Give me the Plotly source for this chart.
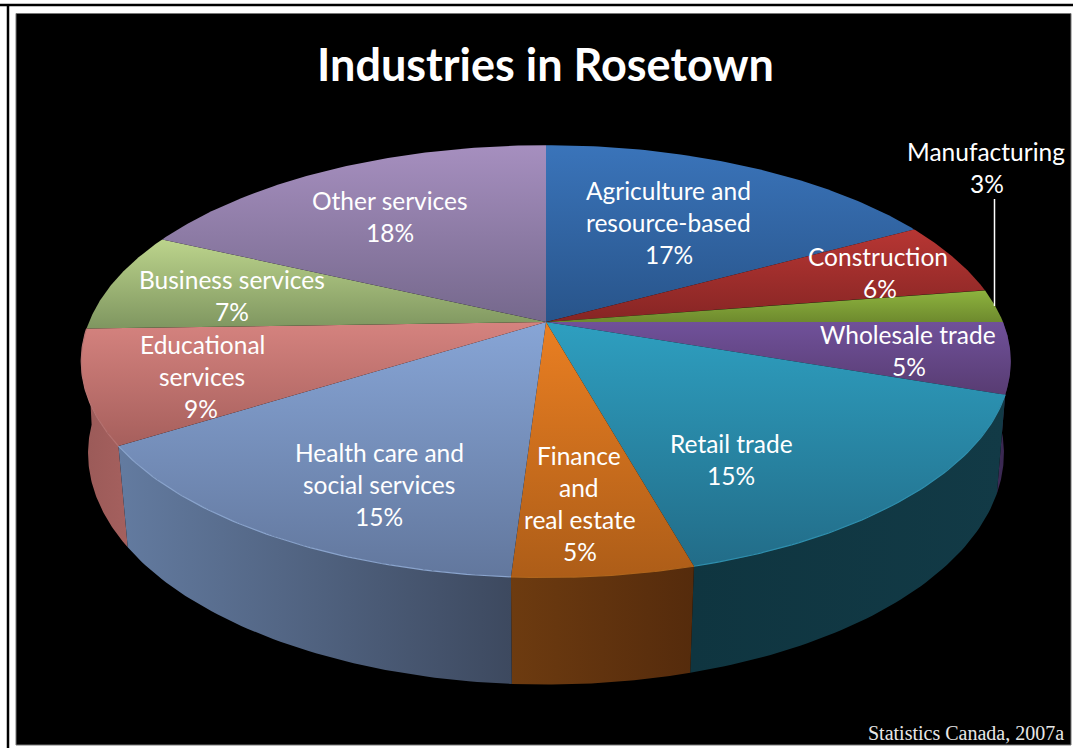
import numpy as np
import plotly.graph_objects as go

# Data
CATEGORIES = ["Agriculture and resource-based", "Construction", "Manufacturing", "Wholesale trade",
              "Retail trade", "Finance and real estate", "Health care and social services",
              "Educational services", "Business services", "Other services"]
SHARES = [17.0, 5.5, 2.5, 5.3, 15.4, 5.3, 15.0, 8.5, 7.5, 18.0]
TOP_LIGHT = ["#3a74ba", "#b73633", "#8db33e", "#70519a", "#2e9fc0", "#ea7f22", "#87a5d6", "#d5837f", "#bcd48c", "#a68fbf"]
TOP_DARK = ["#28548a", "#862524", "#6e8a2e", "#583c72", "#226c88", "#ad5d18", "#62779d", "#a65f5c", "#7f9660", "#75688c"]
WALL_LEFT = {3: "#3c2a55", 4: "#0f3540", 5: "#6d3b10", 6: "#637ba0", 7: "#9a5a58"}
WALL_RIGHT = {3: "#38264e", 4: "#123a46", 5: "#552b0c", 6: "#3d495f", 7: "#a5605e"}
RIM = {4: "#2f8fae", 5: "#b0651c", 6: "#8aa4cd", 7: "#b87472"}

LABELS = [("Agriculture and", 668, 190), ("resource-based", 668, 222), ("17%", 669, 254),
          ("Construction", 878, 256), ("6%", 880, 288),
          ("Manufacturing", 986, 151), ("3%", 987, 183),
          ("Wholesale trade", 908, 334), ("5%", 909, 366),
          ("Retail trade", 731, 443), ("15%", 731, 475),
          ("Finance", 579, 455), ("and", 579, 487), ("real estate", 580, 519), ("5%", 580, 551),
          ("Health care and", 379, 452), ("social services", 379, 484), ("15%", 379, 516),
          ("Educational", 202, 344), ("services", 202, 376), ("9%", 201, 408),
          ("Business services", 232, 279), ("7%", 232, 311),
          ("Other services", 390, 200), ("18%", 390, 232)]
TITLE = "Industries in Rosetown"
SOURCE = "Statistics Canada, 2007a"

# Perspective projection of the pie disc
CX, CY, AX, AY, K = 546.0, 322.0, 457.0, 209.0, 0.182


def top_rim(cum):
    a = np.radians(np.asarray(cum) * 3.6)
    X, Y = np.sin(a), np.cos(a)
    w = 1 + K * Y
    return CX + AX * X / w, CY - AY * Y / w


def bottom_rim(cum):
    x, y = top_rim(cum)
    depth = np.cos(np.radians(np.asarray(cum) * 3.6))
    scale = 0.975 + 0.015 * (1 + depth) ** 2
    return CX + scale * (x - CX), CY + 95.8 + 1.044 * (y - CY)


fig = go.Figure()
edges = np.concatenate([[0], np.cumsum(SHARES)])

# side walls
for i in [3, 7, 4, 5, 6]:
    c = np.linspace(edges[i], edges[i + 1], 60)
    xt, yt = top_rim(c)
    xb, yb = bottom_rim(c)
    fig.add_trace(go.Scatter(
        x=np.concatenate([xt, xb[::-1]]), y=np.concatenate([yt, yb[::-1]]),
        mode="lines", line=dict(width=0), fill="toself", hoverinfo="skip", showlegend=False,
        fillgradient=dict(type="horizontal",
                          colorscale=[[0, WALL_LEFT[i]], [1, WALL_RIGHT[i]]])))

# top faces
for i, name in enumerate(CATEGORIES):
    c = np.linspace(edges[i], edges[i + 1], 80)
    xt, yt = top_rim(c)
    fig.add_trace(go.Scatter(
        x=np.concatenate([[CX], xt, [CX]]), y=np.concatenate([[CY], yt, [CY]]),
        mode="lines", line=dict(width=0), fill="toself", name=name, showlegend=False,
        fillgradient=dict(type="vertical",
                          colorscale=[[0, TOP_DARK[i]], [1, TOP_LIGHT[i]]])))

# rim highlights
for i, col in RIM.items():
    c = np.linspace(edges[i], edges[i + 1], 60)
    xt, yt = top_rim(c)
    fig.add_trace(go.Scatter(x=xt, y=yt, mode="lines", line=dict(color=col, width=1.2),
                             hoverinfo="skip", showlegend=False))

annotations = [dict(x=x, y=y, text=t, showarrow=False, xanchor="center", yanchor="middle",
                    font=dict(family="Lato", size=24.5, color="white"))
               for t, x, y in LABELS]
annotations.append(dict(x=545, y=64, text=f"<b>{TITLE}</b>", showarrow=False, xanchor="center", yanchor="middle",
                        font=dict(family="Lato", size=45, color="white")))
annotations.append(dict(x=1066, y=733, text=SOURCE, showarrow=False, xanchor="right", yanchor="middle",
                        font=dict(family="Liberation Serif", size=20, color="#e8e8e8")))

shapes = [
    dict(type="rect", x0=16, x1=1071, y0=13.5, y1=745, fillcolor="black",
         line=dict(color="#777777", width=1), layer="below"),
    dict(type="line", x0=0, x1=1073, y0=5, y1=5, line=dict(color="black", width=2.5), layer="below"),
    dict(type="line", x0=8, x1=8, y0=4, y1=748, line=dict(color="black", width=2.5), layer="below"),
    dict(type="line", x0=994.5, x1=994.5, y0=199, y1=306, line=dict(color="white", width=1.5)),
]

fig.update_layout(
    width=1073, height=748, margin=dict(l=0, r=0, t=0, b=0),
    paper_bgcolor="white", plot_bgcolor="white",
    xaxis=dict(range=[0, 1073], visible=False, fixedrange=True),
    yaxis=dict(range=[748, 0], visible=False, fixedrange=True),
    annotations=annotations, shapes=shapes, showlegend=False,
)

fig.write_html("out.html", config=dict(displayModeBar=False),
               post_script="document.body.style.margin='0';document.body.style.overflow='hidden';")
